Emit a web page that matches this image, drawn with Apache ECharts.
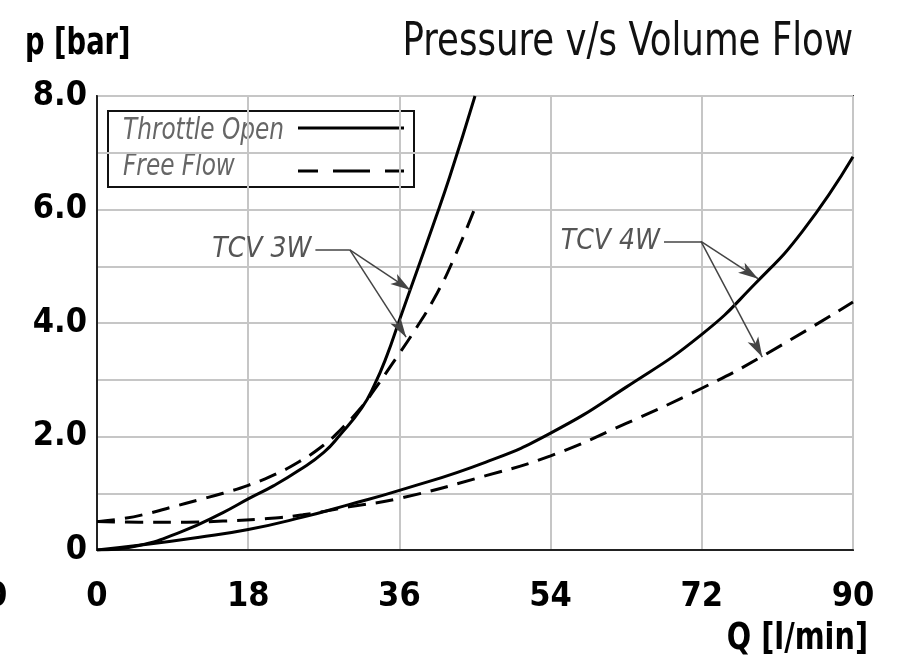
<!DOCTYPE html>
<html>
<head>
<meta charset="utf-8">
<title>Pressure v/s Volume Flow</title>
<script src="https://cdn.jsdelivr.net/npm/echarts@6/dist/echarts.min.js"></script>
<style>
  html, body { margin: 0; padding: 0; background: #fff; }
  #chart { width: 902px; height: 670px; }
</style>
</head>
<body>
<div id="chart"></div>
<script>
  // x axis ticks (Q, l/min)
  const qTicks = [0, 18, 36, 54, 72, 90]

  // TCV 3W
  const q3wOpen = [0, 5, 10, 15, 18, 21, 24, 27, 29, 31.5, 33, 34.5, 36, 38, 40, 42, 45]
  const p3wOpen = [0, 0.08, 0.32, 0.66, 0.9, 1.13, 1.4, 1.72, 2.04, 2.5, 2.9, 3.42, 4.05, 4.88, 5.72, 6.58, 8.0]
  const q3wFree = [0, 3, 6, 9, 12, 15, 18, 21, 24, 27, 29, 31.5, 33, 35, 38, 40.5, 42.5, 45]
  const p3wFree = [0.5, 0.55, 0.64, 0.76, 0.88, 1.0, 1.14, 1.32, 1.55, 1.85, 2.12, 2.52, 2.82, 3.25, 3.91, 4.53, 5.14, 6.03]

  // TCV 4W
  const q4wOpen = [0, 6, 12, 18, 24.5, 30, 36, 46.3, 54, 63, 72, 78.4, 84, 90]
  const p4wOpen = [0, 0.1, 0.22, 0.36, 0.58, 0.8, 1.05, 1.55, 2.06, 2.87, 3.8, 4.7, 5.62, 6.93]
  const q4wFree = [0, 5, 10, 15, 20, 24.5, 30, 36, 46.3, 54, 63, 72, 78.8, 90]
  const p4wFree = [0.5, 0.49, 0.49, 0.51, 0.55, 0.62, 0.76, 0.91, 1.31, 1.66, 2.23, 2.85, 3.38, 4.37]

  // callouts: label end, hub, arrow tips (data units)
  const note3w = { text: 'TCV 3W', from: [26.0, 5.29], hub: [30.1, 5.29], tips: [[37.3, 4.58], [36.8, 3.75]] }
  const note4w = { text: 'TCV 4W', from: [67.5, 5.44], hub: [71.9, 5.44], tips: [[78.7, 4.78], [79.2, 3.4]] }

  const legendNames = ['Throttle Open', 'Free Flow']

  const FONT = '"Liberation Sans Narrow", "DejaVu Sans Condensed", "Roboto", sans-serif'
  const DASH = [18, 10]

  const zip = (xs, ys) => xs.map((x, i) => [x, ys[i]])

  const curve = (name, data, dashed) => ({
    name,
    type: 'line',
    data,
    smooth: 0.5,
    symbol: 'none',
    lineStyle: { color: '#000', width: 3, type: dashed ? DASH : 'solid' },
    itemStyle: { color: '#000' },
    z: 3
  })

  const noteLines = (n) => [
    [
      {
        coord: n.from, symbol: 'none',
        label: {
          show: true, position: 'start', formatter: n.text, distance: 4,
          color: '#555', fontFamily: FONT, fontStyle: 'italic', fontSize: 28
        }
      },
      { coord: n.hub, symbol: 'none' }
    ],
    ...n.tips.map(t => [{ coord: n.hub }, { coord: t }])
  ]

  // legend drawn as a boxed key: text on the left, line sample on the right
  const legendBox = {
    type: 'group',
    left: 107,
    top: 110,
    z: 10,
    children: [
      { type: 'rect', shape: { x: 0, y: 0, width: 306, height: 76 }, style: { fill: '#fff', stroke: '#111', lineWidth: 2 } },
      {
        type: 'text', x: 15, y: 20, scaleX: 0.86,
        style: { text: legendNames[0], font: 'italic 30px ' + FONT, fill: '#666', textVerticalAlign: 'middle' }
      },
      {
        type: 'text', x: 15, y: 56, scaleX: 0.86,
        style: { text: legendNames[1], font: 'italic 30px ' + FONT, fill: '#666', textVerticalAlign: 'middle' }
      },
      { type: 'line', shape: { x1: 190, y1: 17, x2: 296, y2: 17 }, style: { stroke: '#000', lineWidth: 3 } },
      { type: 'line', shape: { x1: 190, y1: 60, x2: 296, y2: 60 }, style: { stroke: '#000', lineWidth: 3, lineDash: [20, 15, 37, 15] } }
    ]
  }

  const chart = echarts.init(document.getElementById('chart'))

  chart.setOption({
    animation: false,
    backgroundColor: '#fff',
    textStyle: { fontFamily: FONT },
    graphic: [
      {
        type: 'text', x: 853, y: 20, scaleX: 0.86,
        style: { text: 'Pressure v/s Volume Flow', font: 'normal 46px ' + FONT, fill: '#111', textAlign: 'right', textVerticalAlign: 'top' }
      },
      {
        type: 'text', x: 25, y: 25, scaleX: 0.8,
        style: { text: 'p [bar]', font: 'bold 38px ' + FONT, fill: '#000', textVerticalAlign: 'top' }
      },
      {
        type: 'text', x: 868, y: 620, scaleX: 0.84,
        style: { text: 'Q [l/min]', font: 'bold 38px ' + FONT, fill: '#000', textAlign: 'right', textVerticalAlign: 'top' }
      },
      {
        type: 'text', x: -14, y: 580,
        style: { text: '0', font: 'bold 34px ' + FONT, fill: '#000', textVerticalAlign: 'top' }
      },
      legendBox
    ],
    grid: { left: 97, right: 49, top: 96, bottom: 120, show: true, borderColor: '#333', borderWidth: 2 },
    xAxis: {
      type: 'value',
      min: qTicks[0],
      max: qTicks[qTicks.length - 1],
      interval: 18,
      axisLine: { show: true, lineStyle: { color: '#222', width: 2 } },
      axisTick: { show: false },
      splitLine: { show: true, lineStyle: { color: '#c6c6c6', width: 2 } },
      axisLabel: { margin: 30, fontFamily: FONT, fontSize: 34, fontWeight: 'bold', color: '#000' }
    },
    yAxis: {
      type: 'value',
      min: 0,
      max: 8,
      interval: 1,
      axisLine: { show: true, lineStyle: { color: '#222', width: 2 } },
      axisTick: { show: false },
      splitLine: { show: true, lineStyle: { color: '#c6c6c6', width: 2 } },
      axisLabel: {
        margin: 10, fontFamily: FONT, fontSize: 34, fontWeight: 'bold', color: '#000',
        formatter: v => (v === 0 ? '0' : v % 2 === 0 ? v.toFixed(1) : '')
      }
    },
    series: [
      curve(legendNames[0], zip(q3wOpen, p3wOpen), false),
      curve(legendNames[1], zip(q3wFree, p3wFree), true),
      curve(legendNames[0], zip(q4wOpen, p4wOpen), false),
      curve(legendNames[1], zip(q4wFree, p4wFree), true),
      {
        name: 'notes',
        type: 'line',
        data: [],
        silent: true,
        markLine: {
          silent: true,
          animation: false,
          symbol: ['none', 'arrow'],
          symbolSize: [9, 20],
          label: { show: false },
          lineStyle: { color: '#444', width: 1.5, type: 'solid' },
          emphasis: { disabled: true },
          data: [...noteLines(note3w), ...noteLines(note4w)]
        }
      }
    ]
  })
</script>
</body>
</html>
